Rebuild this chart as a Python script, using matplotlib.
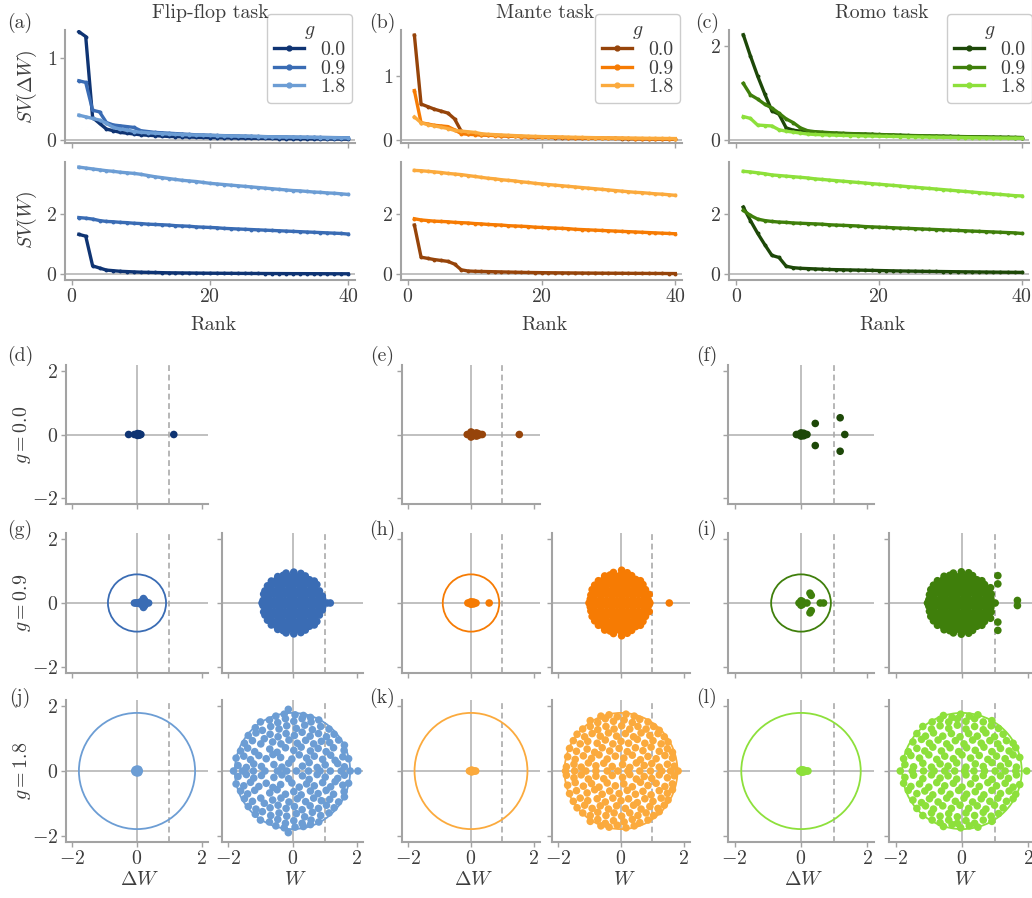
import matplotlib.pyplot as plt
import numpy as np
from matplotlib.lines import Line2D

plt.rcParams["font.family"] = ["cmr10", "DejaVu Serif"]
plt.rcParams["mathtext.fontset"] = "cm"
plt.rcParams["axes.formatter.use_mathtext"] = True

W_PX, H_PX = 1032, 898
TEXT = "#3d3d3d"
SPINE = "#a3a3a3"
ZERO = "#bbbbbb"
FS = 14.3

tasks = ["Flip-flop task", "Mante task", "Romo task"]
g_values = [0.0, 0.9, 1.8]
g_labels = ["0.0", "0.9", "1.8"]
rank = np.arange(1, 41)

blues = ["#0f3473", "#3a6cb4", "#6c9dd4"]
oranges = ["#96440a", "#f67b03", "#fbaa3d"]
greens = ["#1d4808", "#3f7f0b", "#8de03b"]

# singular values of dW (g = 0 also gives SV(W), since W = dW there)
ff_sv_dw_g0 = [1.32, 1.26, 0.27, 0.20, 0.13, 0.11, 0.09, 0.08, 0.07, 0.06, 0.055, 0.05, 0.045, 0.04,
               0.038, 0.035, 0.033, 0.03, 0.028, 0.026, 0.025, 0.023, 0.022, 0.02, 0.019, 0.018, 0.017,
               0.016, 0.015, 0.014, 0.013, 0.012, 0.012, 0.011, 0.01, 0.01, 0.009, 0.008, 0.008, 0.007]
ff_sv_dw_g09 = [0.72, 0.70, 0.36, 0.34, 0.21, 0.18, 0.17, 0.16, 0.15, 0.11, 0.10, 0.09, 0.085, 0.08,
                0.075, 0.07, 0.065, 0.06, 0.058, 0.055, 0.052, 0.05, 0.048, 0.046, 0.044, 0.042, 0.04,
                0.038, 0.036, 0.035, 0.034, 0.032, 0.031, 0.03, 0.029, 0.028, 0.027, 0.026, 0.025, 0.024]
ff_sv_dw_g18 = [0.30, 0.28, 0.26, 0.24, 0.20, 0.15, 0.13, 0.12, 0.10, 0.09, 0.085, 0.08, 0.075, 0.07,
                0.066, 0.062, 0.06, 0.057, 0.055, 0.052, 0.05, 0.048, 0.046, 0.044, 0.042, 0.04, 0.039,
                0.037, 0.036, 0.034, 0.033, 0.032, 0.03, 0.029, 0.028, 0.027, 0.026, 0.025, 0.024, 0.023]
mt_sv_dw_g0 = [1.63, 0.56, 0.52, 0.48, 0.45, 0.42, 0.33, 0.14, 0.10, 0.09, 0.085, 0.08, 0.075, 0.07,
               0.065, 0.06, 0.055, 0.05, 0.048, 0.045, 0.042, 0.04, 0.038, 0.036, 0.034, 0.032, 0.03,
               0.029, 0.027, 0.026, 0.025, 0.024, 0.022, 0.021, 0.02, 0.019, 0.018, 0.017, 0.016, 0.015]
mt_sv_dw_g09 = [0.77, 0.27, 0.25, 0.23, 0.22, 0.21, 0.16, 0.10, 0.09, 0.085, 0.08, 0.075, 0.07, 0.066,
                0.062, 0.058, 0.055, 0.052, 0.05, 0.047, 0.045, 0.043, 0.041, 0.039, 0.037, 0.035, 0.033,
                0.032, 0.03, 0.029, 0.028, 0.026, 0.025, 0.024, 0.023, 0.022, 0.021, 0.02, 0.019, 0.018]
mt_sv_dw_g18 = [0.36, 0.27, 0.24, 0.22, 0.20, 0.18, 0.15, 0.14, 0.13, 0.12, 0.10, 0.09, 0.085, 0.08,
                0.075, 0.07, 0.066, 0.062, 0.058, 0.055, 0.052, 0.05, 0.048, 0.046, 0.044, 0.042, 0.04,
                0.038, 0.036, 0.035, 0.033, 0.032, 0.031, 0.03, 0.029, 0.028, 0.027, 0.026, 0.025, 0.024]
rm_sv_dw_g0 = [2.23, 1.78, 1.36, 0.98, 0.62, 0.55, 0.26, 0.21, 0.19, 0.18, 0.17, 0.16, 0.15, 0.145,
               0.14, 0.135, 0.13, 0.125, 0.12, 0.115, 0.11, 0.105, 0.10, 0.097, 0.094, 0.09, 0.087,
               0.084, 0.081, 0.078, 0.075, 0.072, 0.07, 0.067, 0.065, 0.062, 0.06, 0.058, 0.056, 0.054]
rm_sv_dw_g09 = [1.20, 0.96, 0.87, 0.76, 0.68, 0.57, 0.45, 0.37, 0.26, 0.20, 0.18, 0.17, 0.16, 0.15,
                0.145, 0.14, 0.135, 0.13, 0.125, 0.12, 0.115, 0.11, 0.105, 0.10, 0.097, 0.094, 0.09,
                0.087, 0.084, 0.081, 0.078, 0.075, 0.072, 0.07, 0.067, 0.064, 0.062, 0.06, 0.058, 0.056]
rm_sv_dw_g18 = [0.50, 0.46, 0.32, 0.31, 0.30, 0.22, 0.19, 0.17, 0.15, 0.13, 0.12, 0.115, 0.11, 0.105,
                0.10, 0.097, 0.094, 0.09, 0.087, 0.084, 0.081, 0.078, 0.075, 0.072, 0.07, 0.067, 0.064,
                0.062, 0.06, 0.058, 0.056, 0.054, 0.052, 0.05, 0.048, 0.046, 0.044, 0.043, 0.042, 0.04]

# singular values of W
ff_sv_w_g09 = [1.88, 1.86, 1.83, 1.78, 1.75, 1.74, 1.72, 1.71, 1.69, 1.68, 1.66, 1.65, 1.64, 1.63,
               1.61, 1.60, 1.59, 1.57, 1.56, 1.55, 1.54, 1.52, 1.51, 1.50, 1.49, 1.48, 1.47, 1.46, 1.45,
               1.44, 1.43, 1.42, 1.41, 1.40, 1.39, 1.38, 1.37, 1.36, 1.35, 1.33]
ff_sv_w_g18 = [3.56, 3.53, 3.50, 3.47, 3.44, 3.42, 3.39, 3.37, 3.35, 3.32, 3.28, 3.24, 3.21, 3.18,
               3.15, 3.12, 3.10, 3.08, 3.05, 3.02, 3.00, 2.98, 2.96, 2.94, 2.92, 2.90, 2.88, 2.86, 2.84,
               2.82, 2.80, 2.78, 2.77, 2.75, 2.73, 2.72, 2.70, 2.69, 2.67, 2.65]
mt_sv_w_g09 = [1.84, 1.80, 1.78, 1.76, 1.75, 1.74, 1.72, 1.71, 1.70, 1.68, 1.67, 1.65, 1.64, 1.63,
               1.61, 1.60, 1.59, 1.58, 1.56, 1.55, 1.54, 1.53, 1.52, 1.51, 1.49, 1.48, 1.47, 1.46, 1.45,
               1.44, 1.43, 1.42, 1.41, 1.40, 1.39, 1.38, 1.37, 1.36, 1.35, 1.34]
mt_sv_w_g18 = [3.45, 3.44, 3.42, 3.40, 3.38, 3.35, 3.33, 3.31, 3.28, 3.25, 3.22, 3.19, 3.17, 3.14,
               3.12, 3.10, 3.07, 3.05, 3.02, 3.00, 2.98, 2.96, 2.94, 2.92, 2.90, 2.88, 2.86, 2.84, 2.82,
               2.80, 2.78, 2.76, 2.74, 2.72, 2.71, 2.69, 2.67, 2.66, 2.64, 2.62]
rm_sv_w_g09 = [2.12, 1.95, 1.83, 1.78, 1.75, 1.73, 1.72, 1.70, 1.69, 1.68, 1.67, 1.66, 1.64, 1.63,
               1.62, 1.61, 1.60, 1.58, 1.57, 1.56, 1.55, 1.54, 1.53, 1.52, 1.51, 1.50, 1.49, 1.48, 1.47,
               1.46, 1.45, 1.44, 1.43, 1.42, 1.41, 1.40, 1.39, 1.38, 1.37, 1.35]
rm_sv_w_g18 = [3.42, 3.40, 3.37, 3.34, 3.30, 3.28, 3.26, 3.24, 3.22, 3.20, 3.17, 3.15, 3.13, 3.11,
               3.09, 3.07, 3.05, 3.03, 3.01, 2.99, 2.97, 2.95, 2.93, 2.91, 2.89, 2.87, 2.85, 2.83, 2.81,
               2.79, 2.77, 2.75, 2.73, 2.71, 2.69, 2.67, 2.65, 2.63, 2.61, 2.60]

# eigenvalues: real ones, and the upper half of the complex-conjugate pairs
ff_dw0_real = [-0.26, -0.08, -0.03, 0.0, 0.03, 0.06, 0.09, 0.12, 1.14]
ff_dw0_up = [(0.02, 0.03), (0.07, 0.02)]
ff_dw09_real = [-0.08, -0.03, 0.0, 0.04, 0.08, 0.12, 0.17, 0.22, 0.30, 0.36]
ff_dw09_up = [(0.20, 0.14), (0.24, 0.08), (0.12, 0.04)]
ff_dw18_real = [-0.07, -0.03, 0.02, 0.07]
ff_dw18_up = [(0.0, 0.06), (0.05, 0.05), (-0.05, 0.04)]
mt_dw0_real = [-0.12, -0.06, -0.02, 0.02, 0.06, 0.10, 0.16, 0.22, 0.30, 0.36, 1.54]
mt_dw0_up = [(0.0, 0.08), (0.04, 0.05), (0.17, 0.05), (0.22, 0.03)]
mt_dw09_real = [-0.10, -0.05, -0.01, 0.03, 0.07, 0.11, 0.16, 0.58]
mt_dw09_up = [(0.0, 0.04), (0.08, 0.03)]
mt_dw18_real = [-0.05, -0.01, 0.03, 0.07, 0.11, 0.15]
mt_dw18_up = [(0.02, 0.03)]
rm_dw0_real = [-0.14, -0.09, -0.04, 0.0, 0.04, 0.09, 0.14, 0.18, 1.32]
rm_dw0_up = [(0.0, 0.05), (0.08, 0.04), (0.43, 0.35), (1.18, 0.53)]
rm_dw09_real = [-0.06, -0.02, 0.02, 0.06, 0.18, 0.58, 0.68]
rm_dw09_up = [(0.0, 0.07), (0.04, 0.05), (0.27, 0.31), (0.31, 0.24)]
rm_dw18_real = [-0.04, 0.0, 0.04, 0.08, 0.12, 0.17, 0.21]
rm_dw18_up = [(0.02, 0.04), (0.08, 0.03)]

ff_w09_real = [-0.95, -0.80, -0.62, -0.45, -0.28, -0.10, 0.08, 0.25, 0.42, 0.60, 0.78, 0.95, 1.08, 1.18]
ff_w09_up = [
    (-0.92, 0.08), (-0.75, 0.13), (-0.58, 0.08), (-0.41, 0.13), (-0.24, 0.08), (-0.07, 0.13),
    (0.10, 0.08), (0.27, 0.13), (0.44, 0.08), (0.61, 0.13), (0.78, 0.08), (0.94, 0.13),
    (-0.90, 0.28), (-0.73, 0.24), (-0.56, 0.28), (-0.39, 0.24), (-0.22, 0.28), (-0.05, 0.24),
    (0.12, 0.28), (0.29, 0.24), (0.46, 0.28), (0.63, 0.24), (0.80, 0.28), (0.93, 0.22),
    (-0.86, 0.38), (-0.69, 0.43), (-0.52, 0.38), (-0.35, 0.43), (-0.18, 0.38), (-0.01, 0.43),
    (0.16, 0.38), (0.33, 0.43), (0.50, 0.38), (0.67, 0.43), (0.84, 0.38),
    (-0.78, 0.54), (-0.61, 0.58), (-0.44, 0.54), (-0.27, 0.58), (-0.10, 0.54), (0.07, 0.58),
    (0.24, 0.54), (0.41, 0.58), (0.58, 0.54), (0.76, 0.58),
    (-0.66, 0.69), (-0.49, 0.73), (-0.32, 0.69), (-0.15, 0.73), (0.02, 0.69), (0.19, 0.73),
    (0.36, 0.69), (0.53, 0.73), (0.68, 0.69),
    (-0.46, 0.83), (-0.29, 0.87), (-0.12, 0.83), (0.05, 0.87), (0.22, 0.83), (0.40, 0.85),
    (-0.20, 0.94), (0.04, 0.97), (0.26, 0.93),
]
mt_w09_real = [-1.02, -0.86, -0.68, -0.50, -0.32, -0.15, 0.02, 0.20, 0.38, 0.56, 0.74, 0.92, 1.54]
mt_w09_up = [
    (-0.98, 0.12), (-0.81, 0.08), (-0.64, 0.12), (-0.47, 0.08), (-0.30, 0.12), (-0.13, 0.08),
    (0.04, 0.12), (0.21, 0.08), (0.38, 0.12), (0.55, 0.08), (0.72, 0.12), (0.88, 0.08),
    (-0.96, 0.25), (-0.79, 0.28), (-0.62, 0.25), (-0.45, 0.28), (-0.28, 0.25), (-0.11, 0.28),
    (0.06, 0.25), (0.23, 0.28), (0.40, 0.25), (0.57, 0.28), (0.74, 0.25), (0.90, 0.27),
    (-0.92, 0.42), (-0.75, 0.39), (-0.58, 0.42), (-0.41, 0.39), (-0.24, 0.42), (-0.07, 0.39),
    (0.10, 0.42), (0.27, 0.39), (0.44, 0.42), (0.61, 0.39), (0.78, 0.42),
    (-0.84, 0.56), (-0.67, 0.59), (-0.50, 0.56), (-0.33, 0.59), (-0.16, 0.56), (0.01, 0.59),
    (0.18, 0.56), (0.35, 0.59), (0.52, 0.56), (0.70, 0.58),
    (-0.72, 0.70), (-0.55, 0.74), (-0.38, 0.70), (-0.21, 0.74), (-0.04, 0.70), (0.13, 0.74),
    (0.30, 0.70), (0.47, 0.74), (0.62, 0.70),
    (-0.52, 0.85), (-0.35, 0.88), (-0.18, 0.85), (-0.01, 0.88), (0.16, 0.85), (0.34, 0.86),
    (-0.24, 0.96), (0.02, 1.03), (0.20, 0.95),
]
rm_w09_real = [-1.04, -0.88, -0.70, -0.52, -0.34, -0.16, 0.02, 0.20, 0.38, 0.56, 0.74, 0.92, 1.00]
rm_w09_up = [
    (-1.00, 0.10), (-0.83, 0.14), (-0.66, 0.10), (-0.49, 0.14), (-0.32, 0.10), (-0.15, 0.14),
    (0.02, 0.10), (0.19, 0.14), (0.36, 0.10), (0.53, 0.14), (0.70, 0.10), (0.87, 0.14),
    (-0.98, 0.26), (-0.81, 0.29), (-0.64, 0.26), (-0.47, 0.29), (-0.30, 0.26), (-0.13, 0.29),
    (0.04, 0.26), (0.21, 0.29), (0.38, 0.26), (0.55, 0.29), (0.72, 0.26), (0.88, 0.28),
    (-0.94, 0.42), (-0.77, 0.40), (-0.60, 0.42), (-0.43, 0.40), (-0.26, 0.42), (-0.09, 0.40),
    (0.08, 0.42), (0.25, 0.40), (0.42, 0.42), (0.59, 0.40), (0.76, 0.42), (0.86, 0.48),
    (-0.86, 0.56), (-0.69, 0.58), (-0.52, 0.56), (-0.35, 0.58), (-0.18, 0.56), (-0.01, 0.58),
    (0.16, 0.56), (0.33, 0.58), (0.50, 0.56), (0.68, 0.58),
    (-0.74, 0.70), (-0.57, 0.73), (-0.40, 0.70), (-0.23, 0.73), (-0.06, 0.70), (0.11, 0.73),
    (0.28, 0.70), (0.45, 0.73), (0.60, 0.70),
    (-0.54, 0.84), (-0.37, 0.87), (-0.20, 0.84), (-0.03, 0.87), (0.14, 0.84), (0.32, 0.86),
    (-0.26, 0.94), (-0.02, 0.98), (0.20, 0.95),
    (1.08, 0.86), (1.08, 0.60), (1.67, 0.08),
]

ff_w18_real = [-1.84, -1.56, -1.22, -0.86, -0.47, -0.18, 0.12, 0.50, 0.86, 1.18, 1.52, 1.80, 2.04]
ff_w18_up = [
    (-1.70, 0.17), (-1.44, 0.11), (-1.21, 0.22), (-0.97, 0.14), (-0.58, 0.20), (-0.33, 0.12),
    (-0.12, 0.24), (0.31, 0.15), (0.52, 0.26), (0.77, 0.11), (1.02, 0.19), (1.41, 0.23), (1.62, 0.13),
    (-1.76, 0.40), (-1.52, 0.46), (-1.31, 0.35), (-1.05, 0.48), (-0.82, 0.38), (-0.61, 0.51),
    (-0.37, 0.42), (-0.02, 0.37), (0.21, 0.50), (0.44, 0.40), (0.68, 0.46), (0.94, 0.36),
    (1.19, 0.49), (1.33, 0.33), (1.57, 0.44), (1.75, 0.38),
    (-1.62, 0.62), (-1.40, 0.71), (-1.18, 0.60), (-0.71, 0.68), (-0.48, 0.58), (-0.22, 0.72),
    (0.04, 0.64), (0.27, 0.74), (0.56, 0.62), (0.80, 0.70), (1.05, 0.60), (1.28, 0.72), (1.61, 0.64),
    (-1.50, 0.86), (-1.25, 0.94), (-0.99, 0.84), (-0.88, 1.00), (-0.62, 0.90), (-0.36, 0.84),
    (-0.11, 0.96), (0.15, 0.86), (0.41, 0.95), (0.66, 0.84), (0.90, 0.92), (1.16, 0.88),
    (1.44, 0.96), (1.62, 0.80),
    (-1.38, 1.10), (-1.14, 1.18), (-0.70, 1.14), (-0.45, 1.06), (-0.20, 1.16), (0.06, 1.10),
    (0.30, 1.20), (0.55, 1.08), (0.81, 1.16), (1.06, 1.06), (1.30, 1.14),
    (-1.16, 1.34), (-0.94, 1.26), (-0.68, 1.38), (-0.42, 1.30), (-0.18, 1.40), (0.12, 1.32),
    (0.38, 1.42), (0.62, 1.28), (0.88, 1.38), (1.14, 1.30),
    (-1.00, 1.52), (-0.72, 1.58), (-0.46, 1.50), (-0.22, 1.62), (0.04, 1.54), (0.30, 1.62),
    (0.58, 1.52), (0.82, 1.58),
    (-0.52, 1.70), (-0.26, 1.76), (-0.13, 1.91), (0.08, 1.74), (0.34, 1.72), (0.56, 1.66),
]
mt_w18_real = [-1.77, -1.48, -1.12, -0.80, -0.44, -0.10, 0.22, 0.60, 0.94, 1.30, 1.58, 1.82]
mt_w18_up = [
    (-1.74, 0.13), (-1.50, 0.21), (-1.27, 0.12), (-1.04, 0.25), (-0.80, 0.16), (-0.55, 0.24),
    (-0.28, 0.14), (0.05, 0.20), (0.28, 0.11), (0.49, 0.25), (0.74, 0.17), (0.98, 0.23),
    (1.22, 0.12), (1.48, 0.21), (1.70, 0.15),
    (-1.70, 0.44), (-1.46, 0.36), (-1.20, 0.47), (-0.94, 0.39), (-0.70, 0.50), (-0.44, 0.37),
    (-0.18, 0.46), (0.09, 0.40), (0.36, 0.49), (0.62, 0.35), (0.86, 0.45), (1.12, 0.38),
    (1.40, 0.48), (1.64, 0.40),
    (-1.64, 0.70), (-1.42, 0.61), (-1.08, 0.68), (-0.84, 0.58), (-0.60, 0.72), (-0.36, 0.62),
    (-0.06, 0.70), (0.20, 0.60), (0.46, 0.72), (0.70, 0.63), (0.96, 0.74), (1.22, 0.61),
    (1.48, 0.69), (1.64, 0.58),
    (-1.52, 0.94), (-1.30, 0.84), (-1.06, 0.92), (-0.76, 0.86), (-0.50, 0.96), (-0.26, 0.84),
    (0.00, 0.92), (0.24, 0.86), (0.52, 0.98), (0.76, 0.86), (1.02, 0.94), (1.28, 0.84), (1.50, 0.90),
    (-1.40, 1.14), (-1.16, 1.06), (-0.92, 1.16), (-0.66, 1.08), (-0.40, 1.18), (-0.14, 1.08),
    (0.14, 1.16), (0.40, 1.06), (0.64, 1.18), (0.92, 1.10), (1.18, 1.16), (1.38, 1.06),
    (-1.22, 1.30), (-0.98, 1.38), (-0.74, 1.28), (-0.48, 1.38), (-0.22, 1.30), (0.02, 1.40),
    (0.28, 1.30), (0.54, 1.38), (0.80, 1.30), (1.04, 1.38), (1.22, 1.26),
    (-0.98, 1.56), (-0.74, 1.50), (-0.50, 1.62), (-0.24, 1.54), (0.10, 1.58), (0.36, 1.50),
    (0.60, 1.60), (0.86, 1.52),
    (-0.64, 1.70), (-0.38, 1.74), (-0.12, 1.68), (0.16, 1.76), (0.42, 1.70),
]
rm_w18_real = [-1.86, -1.50, -1.16, -0.84, -0.52, -0.22, 0.08, 0.36, 0.68, 1.00, 1.30, 1.62, 1.95]
rm_w18_up = [
    (-1.72, 0.20), (-1.46, 0.13), (-1.18, 0.24), (-0.92, 0.12), (-0.66, 0.22), (-0.42, 0.15),
    (-0.16, 0.25), (0.12, 0.12), (0.40, 0.22), (0.64, 0.14), (0.90, 0.26), (1.16, 0.15),
    (1.40, 0.23), (1.64, 0.12),
    (-1.76, 0.38), (-1.54, 0.48), (-1.28, 0.40), (-1.00, 0.50), (-0.76, 0.36), (-0.52, 0.46),
    (-0.26, 0.38), (0.00, 0.50), (0.26, 0.40), (0.52, 0.48), (0.78, 0.36), (1.04, 0.46),
    (1.30, 0.38), (1.54, 0.50), (1.74, 0.42),
    (-1.62, 0.60), (-1.36, 0.70), (-1.12, 0.62), (-0.88, 0.74), (-0.62, 0.62), (-0.36, 0.72),
    (-0.10, 0.60), (0.14, 0.72), (0.40, 0.64), (0.66, 0.74), (0.90, 0.60), (1.16, 0.70),
    (1.42, 0.62), (1.62, 0.72),
    (-1.48, 0.90), (-1.22, 0.98), (-0.98, 0.86), (-0.72, 0.96), (-0.46, 0.84), (-0.20, 0.94),
    (0.06, 0.84), (0.32, 0.96), (0.58, 0.86), (0.84, 0.94), (1.08, 0.84), (1.34, 0.94), (1.54, 0.86),
    (-1.36, 1.16), (-1.10, 1.08), (-0.86, 1.18), (-0.58, 1.08), (-0.32, 1.16), (-0.06, 1.06),
    (0.20, 1.16), (0.46, 1.08), (0.72, 1.18), (0.98, 1.06), (1.24, 1.14),
    (-1.18, 1.38), (-0.92, 1.30), (-0.66, 1.40), (-0.40, 1.32), (-0.14, 1.42), (0.12, 1.30),
    (0.38, 1.38), (0.64, 1.28), (0.88, 1.40), (1.10, 1.32),
    (-0.90, 1.52), (-0.66, 1.60), (-0.40, 1.52), (-0.14, 1.62), (0.12, 1.54), (0.38, 1.62),
    (0.64, 1.52), (0.90, 1.56),
    (-0.56, 1.72), (-0.30, 1.66), (-0.04, 1.76), (0.22, 1.70), (0.48, 1.74),
]

# lookup tables built from the lists above
palettes = [blues, oranges, greens]
sv_dw = [[ff_sv_dw_g0, ff_sv_dw_g09, ff_sv_dw_g18],
         [mt_sv_dw_g0, mt_sv_dw_g09, mt_sv_dw_g18],
         [rm_sv_dw_g0, rm_sv_dw_g09, rm_sv_dw_g18]]
sv_w = [[ff_sv_dw_g0, ff_sv_w_g09, ff_sv_w_g18],
        [mt_sv_dw_g0, mt_sv_w_g09, mt_sv_w_g18],
        [rm_sv_dw_g0, rm_sv_w_g09, rm_sv_w_g18]]
eig_dw = [[(ff_dw0_real, ff_dw0_up), (ff_dw09_real, ff_dw09_up), (ff_dw18_real, ff_dw18_up)],
          [(mt_dw0_real, mt_dw0_up), (mt_dw09_real, mt_dw09_up), (mt_dw18_real, mt_dw18_up)],
          [(rm_dw0_real, rm_dw0_up), (rm_dw09_real, rm_dw09_up), (rm_dw18_real, rm_dw18_up)]]
eig_w = [[None, (ff_w09_real, ff_w09_up), (ff_w18_real, ff_w18_up)],
         [None, (mt_w09_real, mt_w09_up), (mt_w18_real, mt_w18_up)],
         [None, (rm_w09_real, rm_w09_up), (rm_w18_real, rm_w18_up)]]


def spectrum(real, upper):
    up = np.array(upper, dtype=float)
    re = np.concatenate([np.array(real, dtype=float), up[:, 0], up[:, 0]])
    im = np.concatenate([np.zeros(len(real)), up[:, 1], -up[:, 1]])
    return re, im


def px_axes(fig, x0, y0, x1, y1):
    return fig.add_axes([x0 / W_PX, 1 - y1 / H_PX, (x1 - x0) / W_PX, (y1 - y0) / H_PX])


def style(ax):
    for side in ("top", "right"):
        ax.spines[side].set_visible(False)
    for side in ("left", "bottom"):
        ax.spines[side].set_color(SPINE)
        ax.spines[side].set_linewidth(1.5)
    ax.tick_params(direction="out", length=3.5, width=1.0, color=SPINE, labelcolor=TEXT,
                   labelsize=FS, pad=2)


def ftext(x, y, s, **kw):
    fig.text(x / W_PX, 1 - y / H_PX, s, color=TEXT, fontsize=FS, ha="center", va="center", **kw)


fig = plt.figure(figsize=(W_PX / 100, H_PX / 100), dpi=100)

# top: singular value spectra
top_cols = [(65, 355), (401, 682), (729, 1029)]
dw_ylims = [(-0.04, 1.34), (-0.045, 1.71), (-0.06, 2.33)]
dw_yticks = [[0, 1], [0, 1], [0, 2]]
legend_right = [352, 680, 1032]
title_x = [210, 545, 882]
label_x = [20, 382, 707]

for t in range(3):
    x0, x1 = top_cols[t]
    ax_dw = px_axes(fig, x0, 30, x1, 143)
    ax_w = px_axes(fig, x0, 162, x1, 280)
    for ax, data in ((ax_dw, sv_dw[t]), (ax_w, sv_w[t])):
        style(ax)
        ax.axhline(0, color=ZERO, lw=1.3, zorder=0)
        for k in range(3):
            ax.plot(rank, data[k], color=palettes[t][k], lw=2.4, marker="o", ms=1.8,
                    label=g_labels[k])
        ax.set_xlim(-1, 41)
        ax.set_xticks([0, 20, 40])
    ax_dw.set_ylim(*dw_ylims[t])
    ax_dw.set_yticks(dw_yticks[t])
    ax_dw.tick_params(labelbottom=False)
    ax_w.set_ylim(-0.2, 3.73)
    ax_w.set_yticks([0, 2])
    ftext((x0 + x1) / 2 + 3, 325, "Rank")
    ftext(title_x[t], 13, tasks[t])
    ftext(label_x[t], 23, "(" + "abc"[t] + ")")
    handles = [Line2D([], [], color=palettes[t][k], lw=2.4, marker="o", ms=3.5) for k in range(3)]
    leg = ax_dw.legend(handles, g_labels, title="$g$", loc="upper right",
                       bbox_to_anchor=(legend_right[t] / W_PX, 1 - 14 / H_PX),
                       bbox_transform=fig.transFigure, fontsize=FS, title_fontsize=FS,
                       handlelength=1.5, handletextpad=0.8, labelspacing=0.02,
                       borderpad=0.35, borderaxespad=0, fancybox=True, framealpha=1)
    leg.get_frame().set_edgecolor("#cccccc")
    leg.get_title().set_color(TEXT)
    for txt in leg.get_texts():
        txt.set_color(TEXT)

ftext(27, 87, r"$SV(\Delta W)$", rotation=90)
ftext(27, 220, r"$SV(W)$", rotation=90)

# bottom: eigenvalue spectra
groups = [((66, 208), (222, 363)), ((402, 540), (552, 690)), ((728, 874), (889, 1035))]
rows = [(365, 504), (533, 673), (700, 842)]
row_letters = ["def", "ghi", "jkl"]
row_label_y = [356, 530, 698]

for r, g in enumerate(g_values):
    y0, y1 = rows[r]
    ftext(22, (y0 + y1) / 2, "$g = %s$" % g_labels[r], rotation=90)
    for t in range(3):
        col = palettes[t][r]
        ftext(label_x[t], row_label_y[r], "(" + row_letters[r][t] + ")")
        panels = [(groups[t][0], eig_dw[t][r], r"$\Delta W$")]
        if eig_w[t][r] is not None:
            panels.append((groups[t][1], eig_w[t][r], "$W$"))
        for p, ((x0, x1), (real, upper), xl) in enumerate(panels):
            ax = px_axes(fig, x0, y0, x1, y1)
            style(ax)
            ax.axhline(0, color=ZERO, lw=1.3, zorder=0)
            ax.axvline(0, color=ZERO, lw=1.3, zorder=0)
            ax.axvline(1, color="#aaaaaa", lw=1.2, ls=(0, (3.5, 2.2)), zorder=0)
            if g > 0:
                ax.add_patch(plt.Circle((0, 0), g, fill=False, color=col, lw=1.3, zorder=1))
            re, im = spectrum(real, upper)
            ax.scatter(re, im, s=30, color=col, edgecolors="none", zorder=2)
            ax.set_xlim(-2.2, 2.2)
            ax.set_ylim(-2.2, 2.2)
            ax.set_xticks([-2, 0, 2])
            ax.set_yticks([-2, 0, 2])
            if not (t == 0 and p == 0):
                ax.tick_params(labelleft=False)
            if r < 2:
                ax.tick_params(labelbottom=False)
            else:
                ftext((x0 + x1) / 2 + 3, 880, xl)

fig.savefig("out.png", dpi=100)
